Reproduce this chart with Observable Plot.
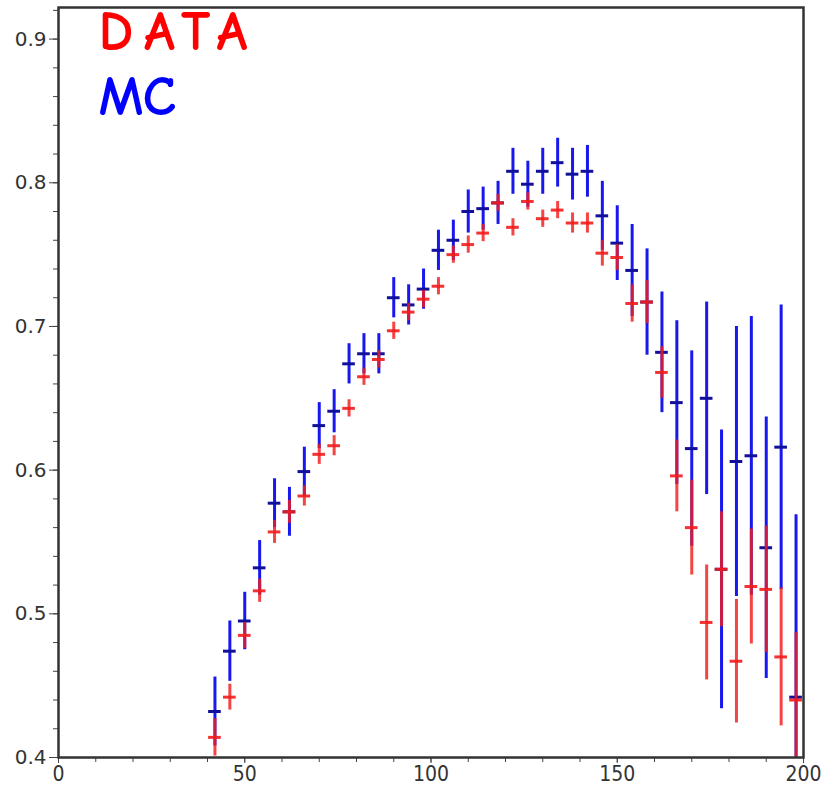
<!DOCTYPE html>
<html>
<head>
<meta charset="utf-8">
<script src="https://cdn.jsdelivr.net/npm/d3@7"></script>
<script src="https://cdn.jsdelivr.net/npm/@observablehq/plot@0.6"></script>
<style>
  body { margin: 0; background: #fff; }
</style>
</head>
<body>
<div id="chart"></div>
<script>
// bin centres
const xs = [42, 46, 50, 54, 58, 62, 66, 70, 74, 78, 82, 86, 90, 94, 98, 102, 106, 110, 114, 118,
            122, 126, 130, 134, 138, 142, 146, 150, 154, 158, 162, 166, 170, 174, 178, 182, 186, 190, 194, 198];
// MC (blue)
const mcY = [0.432, 0.474, 0.495, 0.532, 0.577, 0.571, 0.599, 0.631, 0.641, 0.674, 0.681, 0.681, 0.720, 0.715, 0.726, 0.753, 0.760, 0.780, 0.782, 0.786,
             0.808, 0.799, 0.808, 0.814, 0.806, 0.808, 0.777, 0.758, 0.739, 0.717, 0.682, 0.647, 0.615, 0.650, 0.531, 0.606, 0.610, 0.546, 0.616, 0.442];
const mcErr = [0.024, 0.021, 0.020, 0.019, 0.017, 0.017, 0.017, 0.016, 0.015, 0.014, 0.014, 0.014, 0.014, 0.014, 0.014, 0.014, 0.014, 0.015, 0.015, 0.015,
               0.016, 0.016, 0.016, 0.017, 0.018, 0.018, 0.024, 0.026, 0.032, 0.037, 0.042, 0.057, 0.068, 0.067, 0.097, 0.094, 0.097, 0.091, 0.099, 0.127];
// DATA (red)
const dataY = [0.414, 0.442, 0.485, 0.516, 0.557, 0.571, 0.582, 0.611, 0.617, 0.643, 0.665, 0.677, 0.697, 0.710, 0.719, 0.728, 0.750, 0.757, 0.765, 0.786,
               0.769, 0.787, 0.775, 0.781, 0.772, 0.772, 0.751, 0.748, 0.716, 0.717, 0.668, 0.596, 0.560, 0.494, 0.531, 0.467, 0.519, 0.517, 0.470, 0.440];
const dataErr = [0.013, 0.009, 0.009, 0.008, 0.008, 0.008, 0.007, 0.007, 0.007, 0.006, 0.006, 0.006, 0.006, 0.006, 0.006, 0.006, 0.006, 0.006, 0.006, 0.006,
                 0.006, 0.006, 0.006, 0.006, 0.007, 0.007, 0.009, 0.009, 0.013, 0.015, 0.018, 0.025, 0.033, 0.040, 0.040, 0.043, 0.040, 0.044, 0.048, 0.047];
const binHalf = 1.7;

const xTicks = [0, 50, 100, 150, 200];
const yTicks = [0.4, 0.5, 0.6, 0.7, 0.8, 0.9];
const legendLabels = ["DATA", "MC"];

const xMinor = d3.range(0, 201, 10);
const yMinor = d3.range(0.4, 0.9201, 0.02);

const mc = xs.map((x, i) => ({x, y: mcY[i], e: mcErr[i]}));
const dat = xs.map((x, i) => ({x, y: dataY[i], e: dataErr[i]}));

const blue = "#1818ee";
const red = "#f21c1c";
const legendFont = "'Comic Sans MS', 'Comic Neue', 'DejaVu Sans', sans-serif";
const tickFont = "'DejaVu Sans', 'Liberation Sans', sans-serif";
const xTickFont = "'Liberation Sans Narrow', 'DejaVu Sans Condensed', 'Liberation Sans', sans-serif";

const chart = Plot.plot({
  width: 821,
  height: 794,
  marginLeft: 58,
  marginRight: 18,
  marginTop: 7,
  marginBottom: 37,
  x: {domain: [0, 200], label: null},
  y: {domain: [0.4, 0.922], label: null},
  style: {fontFamily: tickFont, fontSize: "20px", color: "#333", background: "#fff"},
  marks: [
    Plot.axisY(yMinor, {tickSize: 5, tickFormat: () => "", stroke: "#444"}),
    Plot.axisY(yTicks, {tickSize: 9, tickPadding: 3, tickFormat: d => d.toFixed(1), stroke: "#444", fill: "#333",
      fontSize: 20, fontFamily: tickFont}),
    Plot.axisX(xMinor, {tickSize: 5, tickFormat: () => "", stroke: "#444"}),
    Plot.axisX(xTicks, {tickSize: 6, tickPadding: 3, tickFormat: d => String(d), stroke: "#444", fill: "#333",
      fontSize: 21, fontFamily: xTickFont}),
    // MC
    Plot.ruleX(mc, {x: "x", y1: d => d.y - d.e, y2: d => d.y + d.e, stroke: blue, strokeWidth: 3, clip: true}),
    Plot.ruleY(mc, {y: "y", x1: d => d.x - binHalf, x2: d => d.x + binHalf, stroke: "#10109a", strokeWidth: 3, clip: true}),
    // DATA
    Plot.ruleX(dat, {x: "x", y1: d => d.y - d.e, y2: d => d.y + d.e, stroke: red, strokeOpacity: 0.82, strokeWidth: 3, clip: true}),
    Plot.ruleY(dat, {y: "y", x1: d => d.x - binHalf, x2: d => d.x + binHalf, stroke: red, strokeOpacity: 0.9, strokeWidth: 3, clip: true}),
    Plot.frame({stroke: "#333", strokeWidth: 2.5}),
    Plot.text([legendLabels[0]], {frameAnchor: "top-left", dx: 40, dy: 3, text: d => d, fill: "#ff0000",
      fontSize: 56, fontWeight: "bold", fontFamily: legendFont, lineAnchor: "top", textAnchor: "start"}),
    Plot.text([legendLabels[1]], {frameAnchor: "top-left", dx: 40, dy: 68, text: d => d, fill: "#0000ff",
      fontSize: 56, fontWeight: "bold", fontFamily: legendFont, lineAnchor: "top", textAnchor: "start"})
  ]
});
chart.querySelectorAll("text").forEach(t => {
  if (t.textContent === "DATA") t.setAttribute("letter-spacing", "11");
});
document.getElementById("chart").appendChild(chart);
</script>
</body>
</html>
